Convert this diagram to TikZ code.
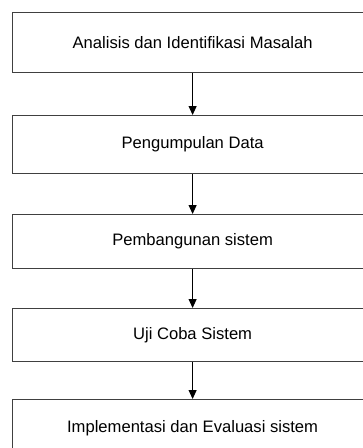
\documentclass[tikz,border=0pt]{standalone}
\usepackage{fontspec}
\setmainfont{Liberation Sans}
\usetikzlibrary{arrows.meta}
\definecolor{boxline}{RGB}{64,64,64}
\begin{document}
\begin{tikzpicture}[x=1pt,y=-1pt,
  stepbox/.style={draw=boxline,line width=1.2pt,minimum width=360pt,inner sep=0pt,anchor=north west,font=\fontsize{16.6}{19}\selectfont},
  flow/.style={draw=black,line width=1pt,-{Triangle[width=8pt,length=9pt]}}]
\clip (0,0) rectangle (363,448);
\fill[white] (0,0) rectangle (363,448);
\node[stepbox,minimum height=60pt] (a) at (12,12) {Analisis dan Identifikasi Masalah};
\node[stepbox,minimum height=58pt] (b) at (12,115) {Pengumpulan Data};
\node[stepbox,minimum height=54pt] (c) at (12,214) {Pembangunan sistem};
\node[stepbox,minimum height=53pt] (d) at (12,308) {Uji Coba Sistem};
\node[stepbox,minimum height=58pt] (e) at (12,399) {Implementasi dan Evaluasi sistem};
\draw[flow] (a.south) -- (b.north);
\draw[flow] (b.south) -- (c.north);
\draw[flow] (c.south) -- (d.north);
\draw[flow] (d.south) -- (e.north);
\end{tikzpicture}
\end{document}
